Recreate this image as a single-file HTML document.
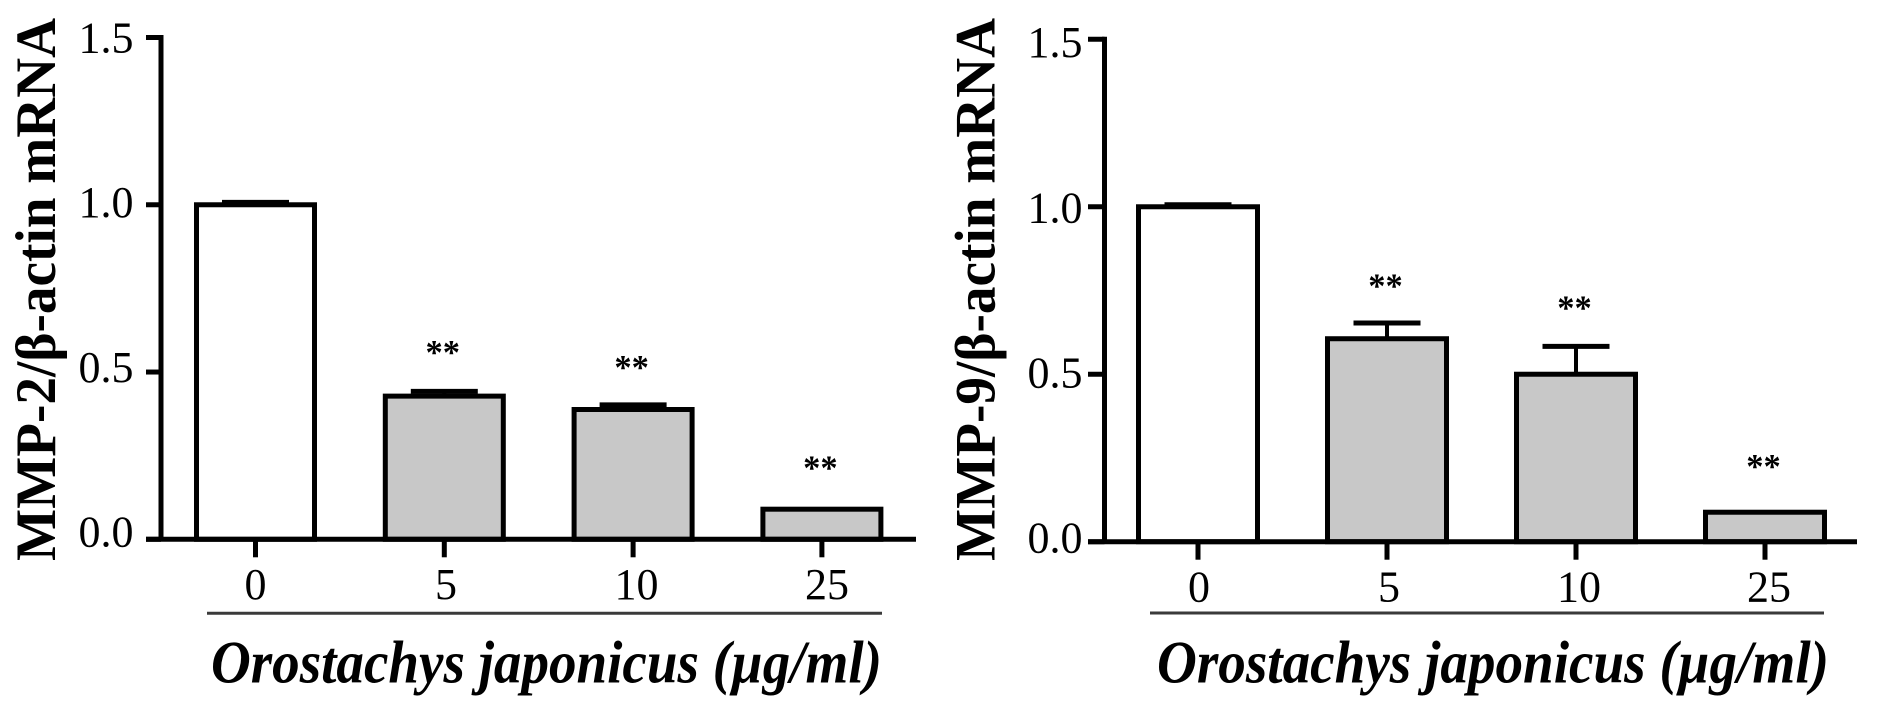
<!DOCTYPE html>
<html lang="en">
<head>
<meta charset="utf-8">
<title>MMP-2 and MMP-9 mRNA bar charts</title>
<style>
html,body{margin:0;padding:0;background:#fff;width:1890px;height:701px;overflow:hidden}
svg{display:block}
text{font-family:"Liberation Serif",serif;fill:#000}
</style>
</head>
<body>
<svg id="figure" xmlns="http://www.w3.org/2000/svg" width="1890" height="701" viewBox="0 0 1890 701"></svg>
<script>
const categories = ["0", "5", "10", "25"];
const yTickValues = [0, 0.5, 1, 1.5];
const yTickLabels = ["0.0", "0.5", "1.0", "1.5"];
const mmp2Values = [1.0, 0.428, 0.388, 0.09];
const mmp2Errors = [0.007, 0.014, 0.014, 0];
const mmp9Values = [1.0, 0.606, 0.5, 0.088];
const mmp9Errors = [0.006, 0.047, 0.083, 0];
const significance = ["", "**", "**", "**"];
const mmp2StarValues = [0, 0.565, 0.52, 0.22];
const mmp9StarValues = [0, 0.77, 0.705, 0.232];

const NS = "http://www.w3.org/2000/svg";
const svg = document.getElementById("figure");

function node(parent, tag, attrs, text) {
  const el = document.createElementNS(NS, tag);
  for (const k in attrs) el.setAttribute(k, attrs[k]);
  if (text !== undefined) el.textContent = text;
  parent.appendChild(el);
  return el;
}

function drawPanel(p) {
  const g = node(svg, "g", {});
  
  

  const yScale = function (v) { return p.y0 + (p.yTop - p.y0) * v / 1.5; };
  const xScale = function (i) { return p.x0 + p.step * i; };
  const stroke = 5;

  // bars
  p.values.forEach(function (v, i) {
    const cx = xScale(i);
    const top = yScale(v);
    if (p.errors[i] > 0) {
      const errY = yScale(v + p.errors[i]);
      const stem = node(g, "line", {x1: cx, x2: cx, y1: top, y2: errY, stroke: "#000", "stroke-width": 4});
      
      
      const cap = node(g, "line", {x1: cx - 33.5, x2: cx + 33.5, y1: errY, y2: errY, stroke: "#000", "stroke-width": 5});
      
      
    }
    const bar = node(g, "rect", {
      x: cx - p.barW / 2, y: top, width: p.barW, height: p.y0 - top,
      fill: i === 0 ? "#ffffff" : "#c8c8c8", stroke: "#000", "stroke-width": stroke
    });
    
    
    if (significance[i]) {
      const star = node(g, "text", {
        x: cx - 1.5, y: yScale(p.stars[i]) + 13.8, "text-anchor": "middle",
        "font-size": 34.5, "font-weight": "bold"
      }, significance[i]);
      
      
    }
  });

  // y axis
  const yAxis = node(g, "line", {x1: p.axisX, x2: p.axisX, y1: p.yTop - stroke / 2, y2: p.y0, stroke: "#000", "stroke-width": stroke});
  
  
  yTickValues.forEach(function (v, i) {
    const y = yScale(v);
    const tick = node(g, "line", {x1: p.tickLeft, x2: p.axisX, y1: y, y2: y, stroke: "#000", "stroke-width": stroke});
    
    
    const label = node(g, "text", {
      x: p.yLabelRight, y: y + p.labelOff + p.labelSlope * v,
      "text-anchor": "end", "font-size": 44
    }, yTickLabels[i]);
    
    
  });

  // x axis
  const xAxis = node(g, "line", {x1: p.tickLeft, x2: p.xEnd, y1: p.y0, y2: p.y0, stroke: "#000", "stroke-width": stroke});
  
  
  categories.forEach(function (c, i) {
    const cx = xScale(i);
    const tick = node(g, "line", {x1: cx, x2: cx, y1: p.y0, y2: p.y0 + 18, stroke: "#000", "stroke-width": stroke});
    
    
    const label = node(g, "text", {
      x: p.x0 + p.labelOffset + i * (p.step + p.labelDrift), y: p.xLabelY, "text-anchor": "middle", "font-size": 44
    }, c);
    
    
  });

  // underline
  const rule = node(g, "line", {x1: p.ruleL, x2: p.ruleR, y1: p.ruleY, y2: p.ruleY, stroke: "#3a3a3a", "stroke-width": 3});
  
  

  // x title
  const xt = node(g, "text", {
    x: p.titleL, y: p.titleY, "font-size": 60, "font-weight": "bold", "font-style": "italic",
    textLength: p.titleW, lengthAdjust: "spacingAndGlyphs"
  }, "Orostachys japonicus (\u00b5g/ml)");
  
  

  // y title
  const yt = node(g, "text", {
    x: 0, y: 0, "font-size": 57, "font-weight": "bold",
    textLength: 543, lengthAdjust: "spacingAndGlyphs",
    transform: "translate(" + p.yTitleX + " 561) rotate(-90)"
  }, p.yTitle);
  
  
}

drawPanel({
  id: "mmp2", values: mmp2Values, errors: mmp2Errors, stars: mmp2StarValues,
  yTitle: "MMP-2/\u03b2-actin mRNA",
  axisX: 161, tickLeft: 146, y0: 539.3, yTop: 37.5, x0: 255.5, step: 188.8, barW: 118,
  xEnd: 916, yLabelRight: 133.5, labelOff: 7.4, labelSlope: 5, labelOffset: 0, labelDrift: 1.7, xLabelY: 599,
  ruleL: 207, ruleR: 882, ruleY: 613.3, titleL: 211, titleW: 671, titleY: 682.5, yTitleX: 55
});
drawPanel({
  id: "mmp9", values: mmp9Values, errors: mmp9Errors, stars: mmp9StarValues,
  yTitle: "MMP-9/\u03b2-actin mRNA",
  axisX: 1104.5, tickLeft: 1088, y0: 541.7, yTop: 39.3, x0: 1198, step: 189, barW: 119,
  xEnd: 1857, yLabelRight: 1082.5, labelOff: 11, labelSlope: 4.5, labelOffset: 1, labelDrift: 1, xLabelY: 601.5,
  ruleL: 1150, ruleR: 1824, ruleY: 613, titleL: 1157, titleW: 672, titleY: 682.5, yTitleX: 994.5
});
</script>
</body>
</html>
